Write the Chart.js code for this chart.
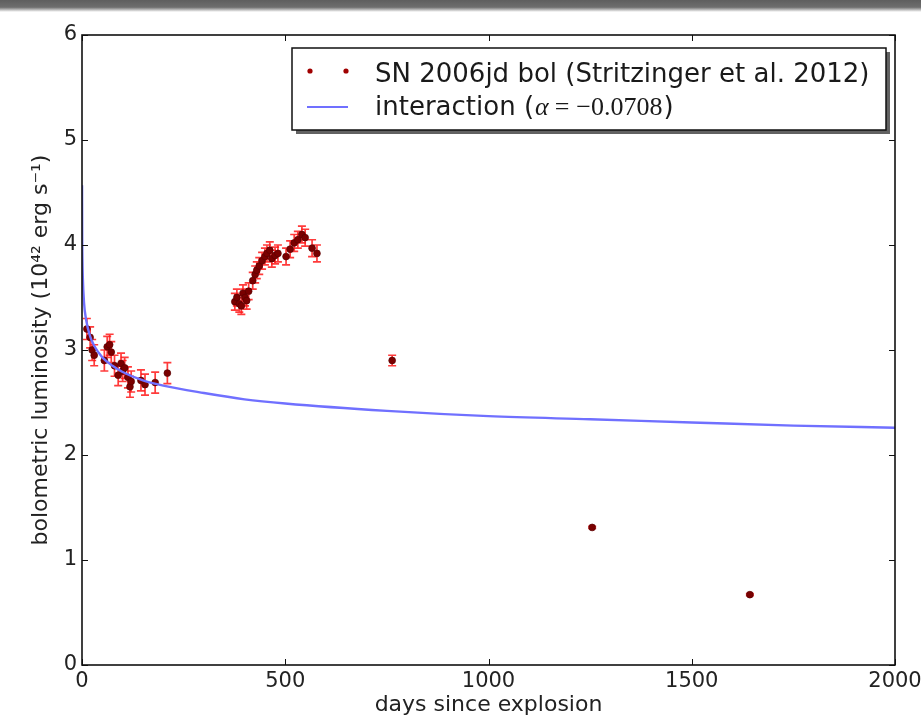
<!DOCTYPE html>
<html><head><meta charset="utf-8">
<script src="https://cdn.jsdelivr.net/npm/chart.js@4/dist/chart.umd.min.js"></script>
<style>html,body{margin:0;padding:0;background:#fff;overflow:hidden}#wrap{position:relative;width:921px;height:719px}</style>
</head><body><div id="wrap"><canvas id="c" width="921" height="719"></canvas></div>
<script>
// observed bolometric light curve (days since explosion, luminosity in 1e42 erg/s, error)
const obsDays = [12, 20, 25, 30, 55, 62, 68, 72, 80, 89, 96, 100, 105, 113, 118, 121, 145, 155, 180, 210,
  376, 381, 387, 392, 396, 401, 405, 410, 420, 426, 430, 436, 443, 450, 455, 462, 467, 475, 482, 502, 512, 522, 531, 541, 549, 566, 578,
  763, 1255, 1643];
const obsLum = [3.2, 3.12, 3.0, 2.95, 2.9, 3.03, 3.05, 2.98, 2.85, 2.76, 2.87, 2.8, 2.83, 2.74, 2.65, 2.7, 2.71, 2.67, 2.69, 2.78,
  3.46, 3.5, 3.44, 3.42, 3.54, 3.5, 3.47, 3.56, 3.66, 3.72, 3.76, 3.8, 3.85, 3.89, 3.92, 3.95, 3.87, 3.9, 3.92, 3.89, 3.96, 4.02, 4.05, 4.1, 4.07, 3.97, 3.92,
  2.9, 1.31, 0.67];
const obsErr = [0.1, 0.1, 0.1, 0.1, 0.1, 0.1, 0.1, 0.1, 0.1, 0.1, 0.1, 0.1, 0.1, 0.1, 0.1, 0.1, 0.1, 0.1, 0.1, 0.1,
  0.08, 0.08, 0.08, 0.08, 0.08, 0.08, 0.08, 0.08, 0.08, 0.08, 0.08, 0.08, 0.08, 0.08, 0.08, 0.08, 0.08, 0.08, 0.08, 0.08, 0.08, 0.08, 0.08, 0.08, 0.08, 0.08, 0.08,
  0.05, 0.01, 0.01];
// interaction model curve
const modelDays = [0.1, 0.5, 1, 2, 5, 10, 20, 30, 50, 75, 100, 150, 200, 300, 400, 500, 750, 1000, 1250, 1500, 1750, 2000];
const modelLum = [4.57, 4.07, 3.87, 3.69, 3.45, 3.29, 3.13, 3.04, 2.93, 2.85, 2.79, 2.71, 2.66, 2.59, 2.53, 2.49, 2.42, 2.37, 2.34, 2.31, 2.28, 2.26];
const xTicks = [0, 500, 1000, 1500, 2000];
const yTicks = [0, 1, 2, 3, 4, 5, 6];
const obsLabel = 'SN 2006jd bol (Stritzinger et al. 2012)';
const modelLabel = 'interaction (';
const modelAlpha = '−0.0708';
const xTitle = 'days since explosion';
const yTitle = 'bolometric luminosity (10⁴² erg s⁻¹)';

const FONT = "'DejaVu Sans', sans-serif";
const BLUE = 'rgb(112,112,255)';
const DARKRED = '#7a0000';
const RED = 'rgba(255,25,25,0.85)';

const obsData = obsDays.map((d, i) => ({x: d, y: obsLum[i]}));
const modelData = modelDays.map((d, i) => ({x: d, y: modelLum[i]}));

const framePlugin = {
  id: 'frame',
  beforeDraw(chart) {
    const ctx = chart.ctx;
    ctx.save();
    ctx.fillStyle = '#fff';
    ctx.fillRect(0, 0, chart.width, chart.height);
    const g = ctx.createLinearGradient(0, 0, 0, 12);
    g.addColorStop(0, '#5e5e5e');
    g.addColorStop(0.6, '#6e6e6e');
    g.addColorStop(1, 'rgba(255,255,255,1)');
    ctx.fillStyle = g;
    ctx.fillRect(0, 0, chart.width, 12);
    ctx.restore();
  },
  beforeDatasetsDraw(chart) {
    const ctx = chart.ctx, xs = chart.scales.x, ys = chart.scales.y;
    ctx.save();
    ctx.strokeStyle = RED;
    ctx.lineWidth = 1.7;
    obsDays.forEach((d, i) => {
      const px = xs.getPixelForValue(d);
      const p1 = ys.getPixelForValue(obsLum[i] + obsErr[i]);
      const p2 = ys.getPixelForValue(obsLum[i] - obsErr[i]);
      ctx.beginPath();
      ctx.moveTo(px, p1); ctx.lineTo(px, p2);
      ctx.moveTo(px - 4, p1); ctx.lineTo(px + 4, p1);
      ctx.moveTo(px - 4, p2); ctx.lineTo(px + 4, p2);
      ctx.stroke();
    });
    ctx.restore();
  },
  afterDraw(chart) {
    const ctx = chart.ctx, xs = chart.scales.x, ys = chart.scales.y;
    const {left, right, top, bottom} = chart.chartArea;
    ctx.save();
    ctx.strokeStyle = '#111';
    ctx.lineWidth = 1;
    ctx.beginPath();
    xTicks.forEach(v => {
      const px = Math.round(xs.getPixelForValue(v)) + 0.5;
      ctx.moveTo(px, bottom); ctx.lineTo(px, bottom - 6);
      ctx.moveTo(px, top); ctx.lineTo(px, top + 6);
    });
    yTicks.forEach(v => {
      const py = Math.round(ys.getPixelForValue(v)) + 0.5;
      ctx.moveTo(left, py); ctx.lineTo(left + 6, py);
      ctx.moveTo(right, py); ctx.lineTo(right - 6, py);
    });
    ctx.stroke();
    ctx.lineWidth = 1.6;
    ctx.strokeRect(left, top, right - left, bottom - top);

    // legend
    const bx = 292, by = 48, bw = 594, bh = 82;
    ctx.fillStyle = 'rgba(70,70,70,0.85)';
    ctx.fillRect(bx + 4, by + 4, bw, bh);
    ctx.fillStyle = '#fff';
    ctx.fillRect(bx, by, bw, bh);
    ctx.strokeStyle = '#111';
    ctx.lineWidth = 1.5;
    ctx.strokeRect(bx, by, bw, bh);

    ctx.fillStyle = '#a00000';
    [310, 346].forEach(x => { ctx.beginPath(); ctx.arc(x, 71, 2.6, 0, Math.PI * 2); ctx.fill(); });
    ctx.strokeStyle = BLUE;
    ctx.lineWidth = 2.2;
    ctx.beginPath(); ctx.moveTo(307, 107); ctx.lineTo(348, 107); ctx.stroke();

    ctx.fillStyle = '#1a1a1a';
    ctx.textBaseline = 'alphabetic';
    ctx.textAlign = 'left';
    ctx.font = '26px ' + FONT;
    ctx.fillText(obsLabel, 375, 82);
    ctx.fillText(modelLabel, 375, 115);
    let x = 375 + ctx.measureText(modelLabel).width;
    ctx.font = "italic 26px 'Liberation Serif', serif";
    ctx.fillText('α', x + 1, 115);
    x += ctx.measureText('α').width + 7;
    ctx.font = "26px 'Liberation Serif', serif";
    ctx.fillText('=', x, 115);
    x += ctx.measureText('=').width + 7;
    ctx.fillText(modelAlpha, x, 115);
    x += ctx.measureText(modelAlpha).width + 1;
    ctx.font = '26px ' + FONT;
    ctx.fillText(')', x, 115);
    ctx.restore();
  }
};

new Chart(document.getElementById('c'), {
  type: 'scatter',
  data: {
    datasets: [
      {
        type: 'line', label: 'interaction', data: modelData,
        borderColor: BLUE, borderWidth: 2.4, pointRadius: 0, fill: false,
        cubicInterpolationMode: 'monotone', showLine: true
      },
      {
        label: obsLabel, data: obsData,
        pointRadius: 3.4, pointBackgroundColor: DARKRED, pointBorderColor: 'rgba(90,0,0,0.9)', pointBorderWidth: 0.8
      }
    ]
  },
  options: {
    responsive: false, animation: false, devicePixelRatio: 1,
    layout: {padding: {top: 35, right: 26, left: 0, bottom: 0}},
    plugins: {legend: {display: false}, tooltip: {enabled: false}},
    scales: {
      x: {
        type: 'linear', min: 0, max: 2000,
        afterBuildTicks: s => { s.ticks = xTicks.map(v => ({value: v})); },
        afterFit: s => { s.height = 54; s.paddingLeft = 0; s.paddingRight = 0; },
        grid: {display: false, drawTicks: false},
        border: {display: false},
        ticks: {color: '#222', font: {family: FONT, size: 21}, padding: 4, maxRotation: 0, autoSkip: false,
          callback: v => String(v)},
        title: {display: true, text: xTitle, color: '#222', font: {family: FONT, size: 22}, padding: {top: 0, bottom: 1}}
      },
      y: {
        type: 'linear', min: 0, max: 6,
        afterBuildTicks: s => { s.ticks = yTicks.map(v => ({value: v})); },
        afterFit: s => { s.width = 82; s.paddingTop = 0; s.paddingBottom = 0; },
        grid: {display: false, drawTicks: false},
        border: {display: false},
        ticks: {color: '#222', font: {family: FONT, size: 21}, padding: 5, callback: v => String(v)},
        title: {display: true, text: yTitle, color: '#222', font: {family: FONT, size: 22}, padding: {top: 28, bottom: 0}}
      }
    }
  },
  plugins: [framePlugin]
});
</script>
</body></html>
